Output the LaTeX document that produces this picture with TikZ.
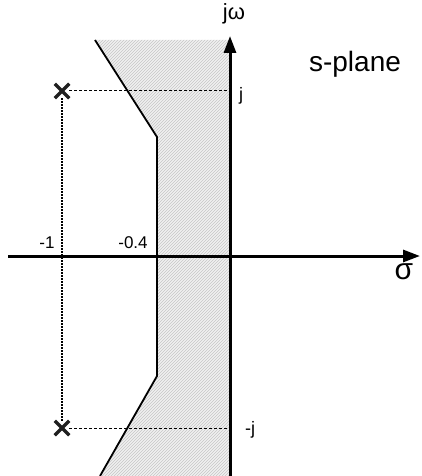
\documentclass[tikz,border=0pt]{standalone}
\usepackage{fontspec}
\setmainfont{Liberation Sans}
\usetikzlibrary{arrows.meta,patterns,shapes.misc}
\begin{document}
\begin{tikzpicture}[x=1pt,y=-1pt,
  axis/.style={line width=3pt,-{Triangle[length=17pt,width=12pt]}},
  bound/.style={line width=1.8pt,line join=round},
  pole/.style={cross out,draw,line width=3.5pt,minimum size=11pt,inner sep=0pt,gray!25!black},
  guide/.style={line width=1pt,dash pattern=on 3pt off 2pt},
  dotguide/.style={line width=1.4pt,dash pattern=on 1.5pt off 1.5pt},
  lbl/.style={inner sep=0pt,font=\fontsize{17}{17}\selectfont}]
\useasboundingbox (0,0) rectangle (422,476);
% region
\coordinate (t1) at (95,40);
\coordinate (k1) at (157,137);
\coordinate (k2) at (157,376);
\coordinate (b1) at (100,476);
\coordinate (ta) at (230,40);
\coordinate (ba) at (230,476);
\fill[gray!12] (t1) -- (k1) -- (k2) -- (b1) -- (ba) -- (ta) -- cycle;
\fill[pattern=north east lines,pattern color=gray!45] (t1) -- (k1) -- (k2) -- (b1) -- (ba) -- (ta) -- cycle;
\draw[bound] (t1) -- (k1) -- (k2) -- (b1);
% axes
\coordinate (xl) at (8,256);
\coordinate (xr) at (420,256);
\coordinate (yb) at (230,476);
\coordinate (yt) at (230,36);
\draw[axis] (xl) -- (xr);
\draw[axis] (yb) -- (yt);
% poles
\node[pole] (p1) at (62,91) {};
\node[pole] (p2) at (62,428) {};
\coordinate (a1) at (230,91);
\coordinate (a2) at (230,428);
\draw[guide] (p1) -- (a1);
\draw[guide] (p2) -- (a2);
\draw[dotguide] (p1) -- (p2);
% labels
\node[lbl,font=\fontsize{22}{22}\selectfont] (jw) at (234,14) {jω};
\node[inner sep=0pt,font=\fontsize{28}{28}\selectfont] (sp) at (355,64) {s-plane};
\node[lbl,font=\fontsize{18}{18}\selectfont] (lj) at (241,96) {j};
\node[lbl,font=\fontsize{18}{18}\selectfont] (lmj) at (250,430) {-j};
\node[lbl] (m1) at (47,243) {-1};
\node[lbl] (m04) at (133,243) {-0.4};
\node[inner sep=0pt,font=\fontsize{30}{30}\selectfont] (sg) at (404,272) {σ};
\end{tikzpicture}
\end{document}
